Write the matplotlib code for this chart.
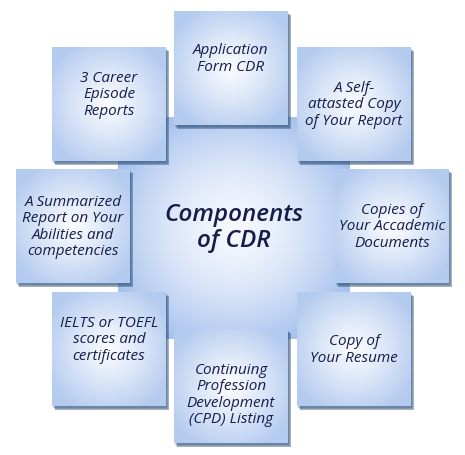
import numpy as np
import matplotlib
matplotlib.use("Agg")
import matplotlib.pyplot as plt
from matplotlib.patches import Rectangle

title = "Components\nof CDR"
labels = ["Application\nForm CDR", "A Self-\nattasted Copy\nof Your Report",
          "Copies of\nYour Accademic\nDocuments", "Copy of\nYour Resume",
          "Continuing\nProfession\nDevelopment\n(CPD) Listing",
          "IELTS or TOEFL\nscores and\ncertificates",
          "A Summarized\nReport on Your\nAbilities and\ncompetencies",
          "3 Career\nEpisode\nReports"]
boxes = [(174, 12), (297, 48), (335, 170), (297, 293), (174, 330), (52, 293), (16, 170), (52, 48)]
text_dy = [-10, 0, 0, 0, 8, -10, 0, -10]

fig = plt.figure(figsize=(4.65, 4.56), dpi=100)
ax = fig.add_axes([0, 0, 1, 1])
ax.set_xlim(0, 465); ax.set_ylim(456, 0); ax.axis("off")

def radial(w, h, c_in, c_out, p=1.0):
    yy, xx = np.mgrid[-1:1:complex(0, h), -1:1:complex(0, w)]
    r = np.clip(np.sqrt(xx**2 + yy**2) / 1.2, 0, 1) ** p
    c_in = np.array(matplotlib.colors.to_rgb(c_in)); c_out = np.array(matplotlib.colors.to_rgb(c_out))
    return c_in * (1 - r[..., None]) + c_out * r[..., None]

ax.imshow(radial(232, 222, "#f6f9fe", "#9fbcec", 1.5), extent=(118, 350, 340, 118), zorder=1)

for (x, y), lab, dy in zip(boxes, labels, text_dy):
    s = 114
    for k in range(4):
        ax.add_patch(Rectangle((x + 1 + k * 0.8, y + 2 + k * 0.8), s, s, color="#2c4f7a",
                               alpha=0.25, lw=0, zorder=2))
    ax.imshow(radial(s, s, "#fbfcff", "#b4cbef", 1.1), extent=(x, x + s, y + s, y), zorder=3)
    ax.text(x + s / 2, y + s / 2 + dy, lab, ha="center", va="center", fontsize=11,
            style="italic", weight="medium", color="#171d4a", family="Open Sans",
            linespacing=1.1, zorder=4)

ax.text(234, 228, title, ha="center", va="center", fontsize=17.5, style="italic",
        weight="semibold", color="#171d4a", family="Open Sans", linespacing=1.15, zorder=4)

fig.savefig("out.png", dpi=100)
